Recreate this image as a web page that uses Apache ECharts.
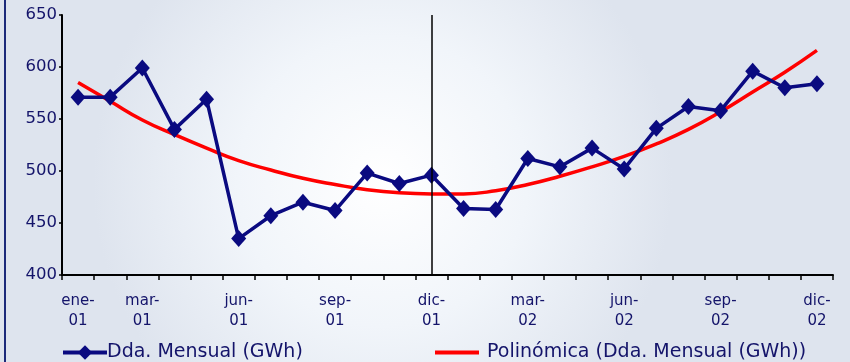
<!DOCTYPE html>
<html>
<head>
<meta charset="utf-8">
<script src="https://cdn.jsdelivr.net/npm/echarts@6/dist/echarts.min.js"></script>
<style>
  html, body { margin: 0; padding: 0; }
  #chart { width: 850px; height: 362px; }
</style>
</head>
<body>
<div id="chart"></div>
<script>
// Monthly categories, Jan 2001 – Dec 2002
const categories = [
  'ene-01','feb-01','mar-01','abr-01','may-01','jun-01','jul-01','ago-01','sep-01','oct-01','nov-01','dic-01',
  'ene-02','feb-02','mar-02','abr-02','may-02','jun-02','jul-02','ago-02','sep-02','oct-02','nov-02','dic-02'
];
// Monthly demand (GWh)
const demandValues = [
  571, 571, 599, 540, 569, 435, 457, 470, 462, 498, 488, 496,
  464, 463, 512, 504, 522, 502, 541, 562, 558, 596, 580, 584
];
// Polynomial trend of the monthly demand
const trendValues = [
  585, 567, 549, 535, 522, 510, 501, 493, 487, 482, 479, 478,
  478, 481, 487, 495, 504, 514, 526, 540, 557, 576, 595, 616
];
// Months that carry an axis label
const labelledMonths = ['ene-01','mar-01','jun-01','sep-01','dic-01','mar-02','jun-02','sep-02','dic-02'];
// Month where the two years are split
const splitMonth = 'dic-01';
const demandName = 'Dda. Mensual (GWh)';
const trendName = 'Polinómica (Dda. Mensual (GWh))';

const textColor = '#14146a';
const font = 'DejaVu Sans, Verdana, sans-serif';
const chart = echarts.init(document.getElementById('chart'));
chart.setOption({
  backgroundColor: {
    type: 'radial', x: 0.45, y: 0.5, r: 0.8,
    colorStops: [
      { offset: 0, color: '#ffffff' },
      { offset: 0.5, color: '#f1f5fa' },
      { offset: 1, color: '#dee4ee' }
    ]
  },
  animation: false,
  grid: { left: 62, right: 17, top: 15, bottom: 87 },
  graphic: [{
    type: 'line', shape: { x1: 5, y1: 0, x2: 5, y2: 362 },
    style: { stroke: '#1c2a7a', lineWidth: 2 }
  }],
  legend: [{
    left: 56, top: 338, itemWidth: 44, itemHeight: 18, itemGap: 0,
    data: [demandName],
    lineStyle: { width: 4 },
    textStyle: { color: textColor, fontSize: 19, fontFamily: font, padding: [0, 0, 0, -5] }
  }, {
    left: 430, top: 338, itemWidth: 44, itemHeight: 4,
    data: [{ name: trendName, icon: 'rect' }],
    textStyle: { color: textColor, fontSize: 19, fontFamily: font, padding: [0, 0, 0, 3] }
  }],
  xAxis: {
    type: 'category',
    data: categories,
    boundaryGap: true,
    axisLine: { lineStyle: { color: '#000', width: 2 } },
    axisTick: { show: true, interval: 0, length: 5, lineStyle: { color: '#000', width: 1.5 } },
    axisLabel: {
      interval: (i, v) => labelledMonths.includes(v),
      formatter: v => v.replace('-', '-\n'),
      color: textColor, fontSize: 15, lineHeight: 20, margin: 16,
      fontFamily: font
    },
    splitLine: { show: false }
  },
  yAxis: {
    type: 'value', min: 400, max: 650, interval: 50,
    axisLine: { show: true, lineStyle: { color: '#000', width: 2 } },
    axisTick: { show: true, length: 3, lineStyle: { color: '#000', width: 1.5 } },
    axisLabel: { color: textColor, fontSize: 16.5, margin: 5, fontFamily: font },
    splitLine: { show: false }
  },
  series: [{
    name: trendName,
    type: 'line',
    data: trendValues,
    smooth: true,
    symbol: 'none',
    lineStyle: { color: '#ff0000', width: 3.5 },
    itemStyle: { color: '#ff0000' },
    z: 2
  }, {
    name: demandName,
    type: 'line',
    data: demandValues,
    symbol: 'diamond',
    symbolSize: [15, 17],
    lineStyle: { color: '#0a0a80', width: 3.5 },
    itemStyle: { color: '#0a0a80' },
    z: 3,
    markLine: {
      silent: true, symbol: 'none', label: { show: false },
      lineStyle: { color: '#000', width: 1.5, type: 'solid' },
      data: [{ xAxis: splitMonth }]
    }
  }]
});
</script>
</body>
</html>
